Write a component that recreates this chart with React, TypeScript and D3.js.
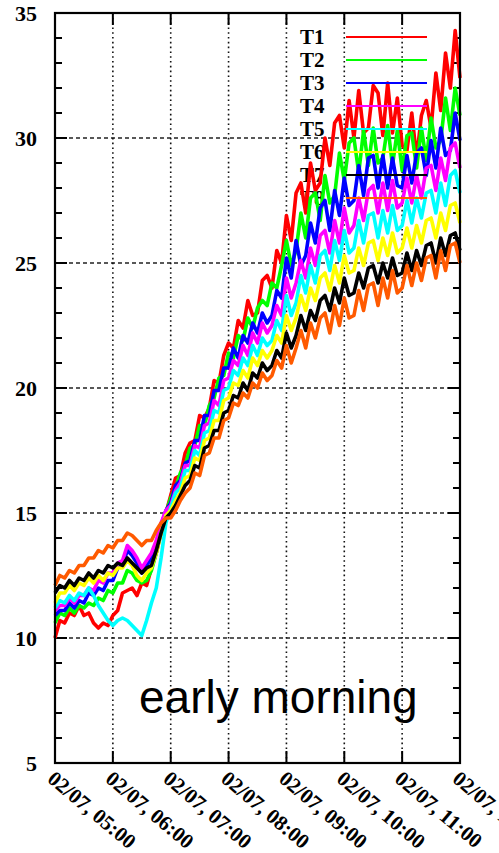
import React from 'react';
import * as d3 from 'd3';

const seriesNames = ['T1', 'T2', 'T3', 'T4', 'T5', 'T6', 'T7', 'T8'];
const seriesColors = ['#ff0000', '#00ff00', '#0000ff', '#ff00ff', '#00ffff', '#ffff00', '#000000', '#ff5a00'];
const xTickLabels = ['02/07, 05:00', '02/07, 06:00', '02/07, 07:00', '02/07, 08:00', '02/07, 09:00', '02/07, 10:00', '02/07, 11:00', '02/07, 12:00'];
const yTickLabels = [5, 10, 15, 20, 25, 30, 35];

// minutes after 05:00, sampled every 5 minutes
const minutes = d3.range(0, 421, 5);

const T1 = [10.0,10.7,10.6,11.0,10.9,11.3,10.9,11.0,10.6,10.4,10.6,10.5,10.9,11.1,11.8,11.9,12.0,11.7,12.2,12.1,12.8,13.4,14.2,15.0,
  15.7,16.4,16.5,17.4,17.8,17.9,18.9,18.8,19.2,20.3,20.2,21.3,21.8,21.6,22.7,22.4,23.5,22.9,23.0,24.3,24.5,24.0,25.5,25.0,26.9,25.9,27.8,28.2,27.0,29.0,27.9,28.2,30.0,28.9,30.6,30.9,29.6,31.5,30.0,31.9,30.2,30.4,32.1,31.8,30.1,32.2,30.2,31.6,29.7,29.5,31.0,29.2,30.9,31.5,30.4,32.6,31.1,33.4,32.0,34.3,32.4];
const T2 = [10.6,11.0,10.9,11.2,11.0,11.3,11.2,11.4,11.3,11.6,11.5,11.9,11.8,12.2,12.2,12.7,12.6,12.3,12.2,12.3,12.7,13.4,14.3,15.0,
  15.6,16.0,16.6,16.9,17.6,17.7,18.5,18.5,19.3,19.6,20.4,20.5,21.4,21.2,22.1,21.9,22.8,22.4,23.2,23.5,23.3,24.2,24.0,24.9,25.9,24.9,25.5,27.0,26.0,27.6,27.8,26.7,28.5,27.4,27.7,29.4,28.3,29.8,30.0,28.6,30.3,28.9,30.4,29.0,29.2,30.5,28.9,30.3,28.7,30.1,30.2,28.8,30.4,29.1,30.8,29.6,29.9,31.6,30.3,32.0,30.9];
const T3 = [10.9,11.1,11.1,11.4,11.2,11.5,11.4,11.8,11.7,12.0,11.9,12.3,12.3,12.8,12.9,13.5,13.3,13.0,12.6,12.9,13.2,13.8,14.5,15.1,
  15.4,16.1,16.3,17.0,17.1,17.9,17.9,18.9,18.9,19.9,19.9,20.8,20.8,21.6,21.2,22.1,21.8,22.6,22.2,23.0,22.6,22.9,23.9,23.6,25.2,24.4,25.9,24.9,25.3,26.6,25.8,27.2,27.5,26.3,27.9,26.9,28.4,27.3,27.5,28.9,27.7,29.2,29.3,28.0,29.3,28.0,29.2,28.1,28.0,29.3,28.2,29.4,29.6,28.5,29.9,28.8,30.4,29.3,29.5,31.0,29.9];
const T4 = [11.1,11.3,11.3,11.6,11.4,11.7,11.7,12.0,11.9,12.3,12.2,12.6,12.6,13.0,13.1,13.7,13.5,13.2,12.8,13.1,13.4,13.9,14.6,15.1,
  15.3,15.9,16.2,16.9,16.9,17.7,17.6,18.5,18.6,19.5,19.3,20.3,20.4,21.1,20.9,21.7,21.3,22.2,21.8,22.6,22.2,22.5,23.3,22.9,24.4,23.6,24.2,25.1,24.4,25.6,24.9,26.1,26.3,25.4,26.7,25.8,27.2,26.2,26.5,27.6,26.7,27.9,28.1,27.0,28.2,27.1,28.3,27.2,27.4,28.4,27.4,28.5,27.6,28.8,28.9,27.9,29.2,28.3,29.6,29.8,28.8];
const T5 = [11.2,11.5,11.4,11.7,11.5,11.8,11.7,12.0,11.7,11.3,11.0,10.7,10.5,10.7,10.8,10.7,10.5,10.3,10.1,10.7,11.4,12.0,13.2,14.6,
  15.2,15.8,16.0,16.7,16.7,17.5,17.3,18.2,18.3,19.1,19.0,19.9,20.0,20.7,20.5,21.2,20.9,21.7,21.3,22.0,21.7,21.9,22.7,22.3,23.7,22.9,23.4,24.5,23.8,24.9,24.2,25.3,25.5,24.7,25.9,25.1,26.3,25.4,25.6,26.7,25.8,26.9,27.0,26.0,27.1,26.2,27.3,26.3,26.5,27.5,26.6,27.6,26.8,27.8,27.9,27.0,28.2,27.3,28.5,28.7,27.8];
const T6 = [11.4,11.8,11.8,12.1,11.9,12.2,12.1,12.4,12.2,12.5,12.3,12.6,12.5,12.8,12.8,13.1,12.9,12.5,12.3,12.6,12.8,13.4,14.2,14.9,
  15.1,15.5,15.8,16.4,16.5,17.2,17.1,17.9,18.0,18.7,18.7,19.5,19.6,20.2,20.1,20.7,20.4,21.2,20.9,21.5,21.2,21.5,22.1,21.8,22.9,22.3,22.8,23.7,23.1,24.0,23.5,24.4,24.6,23.9,24.9,24.2,25.3,24.6,24.7,25.6,24.9,25.8,25.9,25.1,26.0,25.3,26.2,25.4,25.6,26.4,25.6,26.5,25.8,26.7,26.8,26.0,27.0,26.3,27.3,27.4,26.6];
const T7 = [11.8,12.1,12.0,12.3,12.1,12.4,12.3,12.6,12.4,12.7,12.6,12.9,12.8,13.0,12.9,13.2,13.0,12.8,12.6,12.8,12.9,13.5,14.2,14.8,
  15.0,15.3,15.7,16.1,16.3,16.9,16.8,17.6,17.7,18.3,18.3,19.0,19.1,19.7,19.6,20.2,19.9,20.6,20.4,21.0,20.7,20.9,21.5,21.2,22.2,21.6,22.1,22.9,22.3,23.1,22.7,23.5,23.7,23.1,24.0,23.4,24.4,23.7,23.8,24.6,24.0,24.8,24.9,24.2,25.0,24.4,25.2,24.5,24.6,25.4,24.7,25.5,24.9,25.7,25.8,25.0,26.0,25.3,26.1,26.2,25.5];
const T8 = [12.1,12.5,12.4,12.7,12.6,12.9,12.9,13.2,13.2,13.5,13.4,13.7,13.6,13.9,13.9,14.2,14.1,13.9,13.7,13.9,13.9,14.3,14.6,14.8,
  14.8,15.1,15.5,15.8,16.0,16.6,16.5,17.3,17.4,18.0,18.0,18.7,18.8,19.4,19.3,19.8,19.6,20.2,20.0,20.6,20.3,20.5,21.1,20.8,21.7,21.0,21.6,22.3,21.6,22.6,22.0,22.8,23.0,22.2,23.3,22.5,23.6,22.8,22.9,23.9,23.1,24.1,24.2,23.3,24.4,23.6,24.7,23.8,24.0,24.9,24.1,25.0,24.3,25.2,25.3,24.4,25.5,24.7,25.7,25.8,25.0];

const seriesValues = [T1, T2, T3, T4, T5, T6, T7, T8];

const W = 499;
const H = 853;
const L = 55, R = 460, TOP = 13, BOT = 763;

export default function App() {
  const x = d3.scaleLinear().domain([0, 420]).range([L, R]);
  const y = d3.scaleLinear().domain([5, 35]).range([BOT, TOP]);
  const xTicks = d3.range(0, 421, 60);
  const yMinor = d3.range(5, 36, 1);
  const serif = '"Liberation Serif", "Times New Roman", serif';

  const makeLine = (vals: number[]) =>
    d3.line<number>()
      .x((_, i) => x(minutes[i]))
      .y((d) => y(d))(vals) || '';

  return (
    <svg width={W} height={H} style={{ position: 'absolute', left: 0, top: 0, background: '#fff' }}>
      <rect x={0} y={0} width={W} height={H} fill="#fff" />
      {/* grid */}
      {yTickLabels.filter((v) => v > 5 && v < 35).map((v) => (
        <line key={'gy' + v} x1={L} x2={R} y1={y(v)} y2={y(v)} stroke="#222" strokeWidth={1.6} strokeDasharray="4,3" />
      ))}
      {xTicks.filter((m) => m > 0 && m < 420).map((m) => (
        <line key={'gx' + m} x1={x(m)} x2={x(m)} y1={TOP} y2={BOT} stroke="#111" strokeWidth={1.6} strokeDasharray="1.6,3.2" />
      ))}
      {/* minor/major y ticks */}
      {yMinor.map((v) => (
        <g key={'yt' + v}>
          <line x1={L} x2={L + (v % 5 === 0 ? 12 : 7)} y1={y(v)} y2={y(v)} stroke="#000" strokeWidth={2} />
          <line x1={R} x2={R - (v % 5 === 0 ? 12 : 7)} y1={y(v)} y2={y(v)} stroke="#000" strokeWidth={2} />
        </g>
      ))}
      {xTicks.map((m) => (
        <g key={'xt' + m}>
          <line x1={x(m)} x2={x(m)} y1={BOT} y2={BOT - 12} stroke="#000" strokeWidth={2} />
          <line x1={x(m)} x2={x(m)} y1={TOP} y2={TOP + 12} stroke="#000" strokeWidth={2} />
        </g>
      ))}
      {/* legend text */}
      {seriesNames.map((n, i) => (
        <text key={'lt' + n} x={300} y={37 + i * 23} dy="0.35em" fontFamily={serif} fontWeight="bold" fontSize={21} fill="#000">{n}</text>
      ))}
      {/* series */}
      {seriesValues.map((vals, i) => (
        <g key={'s' + i}>
          <line x1={346} x2={427} y1={37 + i * 23} y2={37 + i * 23} stroke={seriesColors[i]} strokeWidth={2} />
          <path d={makeLine(vals)} fill="none" stroke={seriesColors[i]} strokeWidth={3.6} strokeLinejoin="round" />
        </g>
      ))}
      {/* frame */}
      <rect x={L} y={TOP} width={R - L} height={BOT - TOP} fill="none" stroke="#000" strokeWidth={2.2} />
      {/* y labels */}
      {yTickLabels.map((v) => (
        <text key={'yl' + v} x={37} y={y(v)} dy="0.35em" textAnchor="end" fontFamily={serif} fontWeight="bold" fontSize={22} fill="#000">{v}</text>
      ))}
      {/* x labels */}
      {xTickLabels.map((t, i) => (
        <text key={'xl' + i} transform={`translate(${x(xTicks[i]) - 4},${BOT + 12}) rotate(40)`} dy="0.35em" textAnchor="start" fontFamily={serif} fontWeight="bold" fontSize={21} fill="#000">{t}</text>
      ))}
      <text x={139} y={713} fontFamily='"Liberation Sans", Arial, sans-serif' fontSize={46} fill="#000">early morning</text>
    </svg>
  );
}
